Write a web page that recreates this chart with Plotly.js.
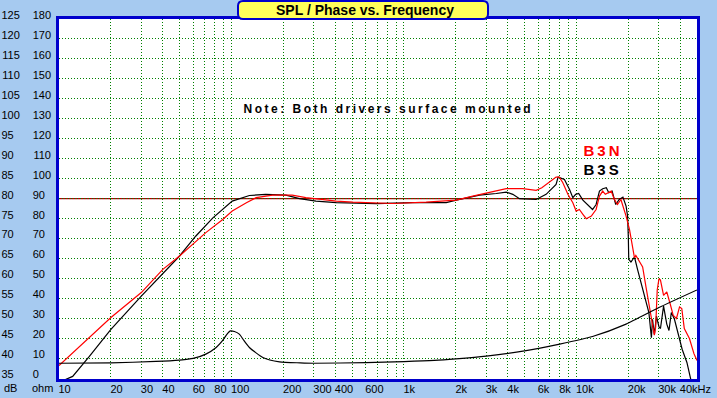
<!DOCTYPE html>
<html>
<head>
<meta charset="utf-8">
<script src="https://cdn.plot.ly/plotly-3.0.1.min.js"></script>
<style>
html,body{margin:0;padding:0;background:#A6CAF0;}
#chart{width:717px;height:398px;}
g.annotation[data-index="0"] text{letter-spacing:2.5px;}
g.annotation[data-index="1"] text{letter-spacing:3px;}
g.annotation[data-index="2"] text{letter-spacing:3px;}
</style>
</head>
<body>
<div id="chart"></div>
<script>
// ---- data ----
const b3nFreq = [10,15,20,30,40,50,60,71,89,101,122,139,173,225,270,324,405,505,861,1345,2010,2507,3133,3916,4890,5840,6300,6970,7620,7960,8340,8920,9530,9960,10400,10900,11400,12200,13000,13600,14200,14700,15900,16600,17300,18100,19400,20300,21200,21700,22100,23100,24200,25300,26400,27600,28300,28800,29400,30100,30700,32000,33400,34900,36400,38000,39600,40800,42200,45200,48000,50000];
const b3nSPL = [38.2,45.25,50.25,56.5,62.3,65.65,68.6,71.5,74.8,76.9,79,80.25,80.9,80.9,80.25,79.8,79.4,79.15,78.8,79.15,79.65,80.65,81.65,82.5,82.5,82.1,82.75,84.15,85.4,85.4,84,81.1,79,76.9,77.3,76.1,75,75.65,77.3,80.65,81.9,81.1,81.9,79.8,78.55,79.8,75.65,72.3,68.15,65.2,65.8,64.5,62.9,57.9,52.9,47.9,45.8,47.9,57.1,60,59.6,55.8,56.65,53.75,50.8,50,52.9,52.5,47.5,45,41.2,39.5];

const b3sFreq = [10,12,15,20,30,40,50,62,78,101,127,158,207,248,309,405,690,1125,1757,2010,2741,3428,3916,4276,4677,5840,6670,7620,7830,8520,9120,9530,9900,10300,10900,12400,13000,13600,14200,14900,15400,16100,16900,17700,18600,19400,19800,20000,20100,20700,21700,22600,23700,25200,26300,27200,27600,28300,29100,30100,30700,32000,33400,34400,35500,37000,38700,41000,43700,45400,47000];
const b3sSPL = [34,35.5,40.5,47.3,55.6,61.2,65.65,70.6,75.2,79.4,80.8,81.1,80.9,80,79.4,79,78.75,79,79,79.65,80.9,81.3,81.65,81.1,80,79.8,81.1,83.6,85.4,84.8,82.3,80.25,81.1,81.3,79.65,77.3,78.55,81.9,82.5,82.75,81.5,81.9,78.55,79.8,80.4,78.15,75.65,70,64.8,64.15,65.4,62.3,59,54.8,51.5,45.2,49.8,46,50.6,47.9,47.5,53.1,48.6,47,51.5,49.8,46.5,42.3,39,35.6,33];

const impFreq = [10,20,36.5,50,60,71,81.5,88,95,98.5,104,111,118,127,152,190,250,300,600,1000,1500,2000,3000,5000,8000,12400,19400,30100,50000];
const impOhm  = [7.6,7.8,8.5,9.2,10,12.15,15.5,18.5,22.6,23.8,23.5,22.15,19,15.5,10.5,8.3,7.8,7.6,7.9,8.4,9,9.8,11.2,13.8,17.2,21,27.2,35.5,44.3];

const xGridVals = [10,20,30,40,50,60,70,80,90,100,200,300,400,500,600,700,800,900,1000,2000,3000,4000,5000,6000,7000,8000,9000,10000,20000,30000,40000];
const xTickVals   = [10,20,30,40,60,80,100,200,300,400,600,1000,2000,3000,4000,6000,8000,10000,20000,30000,40000];
const xTickLabels = ['10','20','30','40','60','80','100','200','300','400','600','1k','2k','3k','4k','6k','8k','10k','20k','30k','40kHz'];

const dbTicks = [35,40,45,50,55,60,65,70,75,80,85,90,95,100,105,110,115,120,125];
const ohmTicks = [0,10,20,30,40,50,60,70,80,90,100,110,120,130,140,150,160,170,180];
const refLevelDB = 80;

const seriesNames = ['B3N','B3S'];
const titleText = 'SPL / Phase vs. Frequency';
const noteText = 'Note: Both drivers surface mounted';

// ---- helpers ----
const FS = '\u2007';
function padRight(s, n){ return s + FS.repeat(Math.max(0, n - s.length)); }

const L = 59, T = 19, W = 638, H = 360;
const px = x => (x - L) / W;
const py = y => (T + H - y) / H;

const BLUE = '#0000CC';
const GRID = '#008000';
const XRANGE = [1, Math.log10(50000)];
const DB_RANGE = [34.85, 125];
const OHM_RANGE = [(DB_RANGE[0] - 35) * 2, 180];
const FONT = 'Liberation Sans, Arial, sans-serif';

const gridText = xGridVals.map(v => { const i = xTickVals.indexOf(v); return i >= 0 ? xTickLabels[i] : ''; });

const traces = [
  {x: impFreq, y: impOhm, type: 'scatter', mode: 'lines', yaxis: 'y2',
   line: {color: '#000000', width: 1.2, shape: 'spline', smoothing: 0.6}, showlegend: false, hoverinfo: 'skip'},
  {x: b3sFreq, y: b3sSPL, type: 'scatter', mode: 'lines', name: seriesNames[1],
   line: {color: '#000000', width: 1.2}, showlegend: false, hoverinfo: 'skip'},
  {x: b3nFreq, y: b3nSPL, type: 'scatter', mode: 'lines', name: seriesNames[0],
   line: {color: '#FF0000', width: 1.2}, showlegend: false, hoverinfo: 'skip'}
];

// rounded title box
const bx0 = px(238), bx1 = px(488), byT = py(1), byB = py(19);
const rx = 5 / W, ry = 5 / H;
const boxPath = `M ${bx0+rx},${byT} L ${bx1-rx},${byT} Q ${bx1},${byT} ${bx1},${byT-ry} L ${bx1},${byB+ry} Q ${bx1},${byB} ${bx1-rx},${byB} L ${bx0+rx},${byB} Q ${bx0},${byB} ${bx0},${byB+ry} L ${bx0},${byT-ry} Q ${bx0},${byT} ${bx0+rx},${byT} Z`;

const layout = {
  width: 717, height: 398,
  margin: {l: L, r: 717 - L - W, t: T, b: 398 - T - H, pad: 0},
  paper_bgcolor: '#A6CAF0',
  plot_bgcolor: '#FFFFFF',
  font: {family: FONT, size: 11, color: '#000000'},
  showlegend: false,
  hovermode: false,
  title: {text: '<b>' + titleText + '</b>', font: {family: FONT, size: 14, color: '#000000'},
          xref: 'container', yref: 'container', x: 365/717, y: 1 - 10.5/398, xanchor: 'center', yanchor: 'middle'},
  xaxis: {
    type: 'log', range: XRANGE,
    tickmode: 'array', tickvals: xGridVals, ticktext: gridText,
    tickangle: 0, ticks: '', ticklabelposition: 'outside right', ticklabelshift: -2,
    showgrid: true, gridcolor: GRID, gridwidth: 1, griddash: '1px,2px',
    showline: true, linecolor: BLUE, linewidth: 3, mirror: true, zeroline: false,
    tickfont: {size: 11, color: '#000000'}, ticklabelstandoff: -2, ticklabeloverflow: 'allow'
  },
  yaxis: {
    range: DB_RANGE, tickmode: 'array', tickvals: dbTicks, ticktext: dbTicks.map(v => padRight(String(v), 3)),
    ticks: '', showgrid: true, gridcolor: GRID, gridwidth: 1, griddash: '1px,2px',
    showline: true, linecolor: BLUE, linewidth: 3, mirror: true, zeroline: false,
    tickfont: {size: 11, color: '#000000'}, ticklabelstandoff: 34, ticklabelshift: -4, ticklabeloverflow: 'allow'
  },
  yaxis2: {
    overlaying: 'y', side: 'left', anchor: 'x', range: OHM_RANGE,
    tickmode: 'array', tickvals: ohmTicks, ticktext: ohmTicks.map(v => padRight(String(v), 3)),
    ticks: '', showgrid: false, zeroline: false, showline: false,
    tickfont: {size: 11, color: '#000000'}, ticklabelstandoff: 7, ticklabelshift: -4, ticklabeloverflow: 'allow'
  },
  shapes: [
    {type: 'line', xref: 'paper', x0: 0, x1: 1, yref: 'y', y0: refLevelDB, y1: refLevelDB,
     line: {color: '#B00000', width: 1.2}, layer: 'between'},
    {type: 'path', xref: 'paper', yref: 'paper', path: boxPath, fillcolor: '#FFFF5A',
     line: {color: BLUE, width: 2}, layer: 'above'}
  ],
  annotations: [
    {text: '<b>' + noteText + '</b>', xref: 'paper', yref: 'paper', x: px(388.5), y: py(109), xanchor: 'center', yanchor: 'middle',
     showarrow: false, font: {size: 12, color: '#000000'}},
    {text: '<b>' + seriesNames[0] + '</b>', xref: 'paper', yref: 'paper', x: px(602.5), y: py(150), xanchor: 'center', yanchor: 'middle',
     showarrow: false, font: {size: 15, color: '#FF0000'}},
    {text: '<b>' + seriesNames[1] + '</b>', xref: 'paper', yref: 'paper', x: px(602.5), y: py(169), xanchor: 'center', yanchor: 'middle',
     showarrow: false, font: {size: 15, color: '#000000'}},
    {text: 'dB', xref: 'paper', yref: 'paper', x: px(2), y: py(388), xanchor: 'left', yanchor: 'middle',
     showarrow: false, font: {size: 11, color: '#000000'}},
    {text: 'ohm', xref: 'paper', yref: 'paper', x: px(30), y: py(388), xanchor: 'left', yanchor: 'middle',
     showarrow: false, font: {size: 11, color: '#000000'}}
  ]
};

Plotly.newPlot('chart', traces, layout, {displayModeBar: false, staticPlot: true});
</script>
</body>
</html>
